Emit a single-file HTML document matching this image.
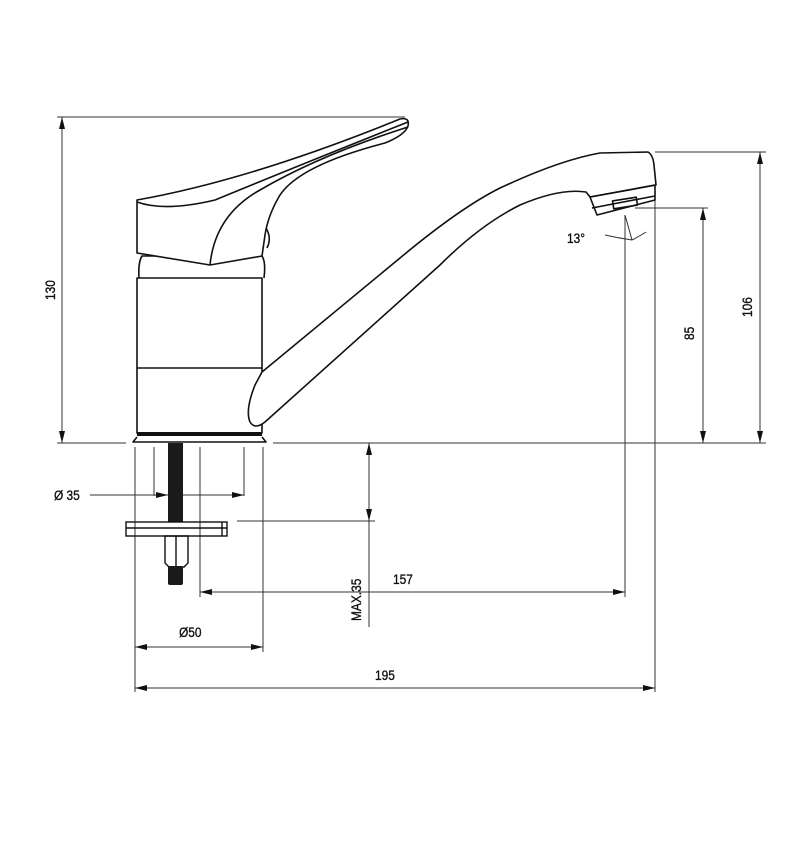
<!DOCTYPE html>
<html><head><meta charset="utf-8"><style>
html,body{margin:0;padding:0;background:#fff;}
svg{display:block;}
text{font-family:"Liberation Sans",sans-serif;font-size:14px;fill:#111;stroke:#111;stroke-width:0.35;}
</style></head><body>
<svg width="800" height="849" viewBox="0 0 800 849" xmlns="http://www.w3.org/2000/svg">
<defs>
<marker id="a" viewBox="0 0 12 6" refX="12" refY="3" markerWidth="12" markerHeight="6" orient="auto-start-reverse" markerUnits="userSpaceOnUse">
<path d="M0,0 L12,3 L0,6 Z" fill="#111"/>
</marker>
</defs>
<g stroke="#333" stroke-width="1" fill="none">
<line x1="57" y1="117" x2="405" y2="117"/>
<line x1="57" y1="443" x2="126" y2="443"/>
<line x1="62" y1="117" x2="62" y2="443" marker-start="url(#a)" marker-end="url(#a)"/>
<line x1="273" y1="443" x2="766" y2="443"/>
<line x1="655" y1="152" x2="766" y2="152"/>
<line x1="760" y1="152" x2="760" y2="443" marker-start="url(#a)" marker-end="url(#a)"/>
<line x1="635" y1="208" x2="708" y2="208"/>
<line x1="703" y1="208" x2="703" y2="443" marker-start="url(#a)" marker-end="url(#a)"/>
<line x1="655" y1="185" x2="655" y2="692"/>
<line x1="625" y1="215" x2="625" y2="597"/>
<line x1="135" y1="447" x2="135" y2="692"/>
<line x1="263" y1="447" x2="263" y2="652"/>
<line x1="200" y1="447" x2="200" y2="597"/>
<line x1="154" y1="447" x2="154" y2="496"/>
<line x1="244" y1="447" x2="244" y2="496"/>
<line x1="90" y1="495" x2="168" y2="495" marker-end="url(#a)"/>
<line x1="183" y1="495" x2="244" y2="495" marker-end="url(#a)"/>
<line x1="237" y1="521" x2="375" y2="521"/>
<line x1="369" y1="443" x2="369" y2="627"/>
<line x1="369" y1="470" x2="369" y2="443" marker-end="url(#a)"/>
<line x1="369" y1="495" x2="369" y2="521" marker-end="url(#a)"/>
<line x1="200" y1="592" x2="625" y2="592" marker-start="url(#a)" marker-end="url(#a)"/>
<line x1="135" y1="647" x2="263" y2="647" marker-start="url(#a)" marker-end="url(#a)"/>
<line x1="135" y1="688" x2="655" y2="688" marker-start="url(#a)" marker-end="url(#a)"/>
<line x1="625" y1="215" x2="632" y2="240"/>
<path d="M605,235 Q618,238 632,240"/>
<path d="M632,240 Q640,236 646,232"/>
</g>

<g stroke="#111" stroke-width="1.6" fill="none" stroke-linejoin="round">
<path d="M139,278 Q138,262 142,256 L262,256 Q266,262 264,278"/>
<rect x="137" y="278" width="125" height="155"/>
<line x1="137" y1="368" x2="262" y2="368"/>
<path d="M137,437 L133,442 L266,442 L262,437"/>
<path d="M137,200 Q250,180 400,119 Q410,117 408,126 Q405,135 385,143 Q300,165 280,195 Q268,215 265,235 L262,256 L210,265 L137,253 Z" fill="#fff"/>
<path d="M137,202 Q165,212 215,200 Q300,165 408,122"/>
<path d="M210,265 Q215,215 260,190 Q320,155 408,127"/>
<path d="M266,228 Q272,238 267,248"/>
<path d="M262,372 L400,258 Q460,208 500,188 Q560,160 600,153 L648,152 Q653,155 654,165 L656,185 L590,197 L586,192 Q560,188 520,205 Q480,225 440,265 L265,422 Q255,430 250,422 Q245,410 255,385 Z" fill="#fff"/>
<path d="M590,197 L655,185 L655,200 L597,215 Z"/>
<line x1="592" y1="208" x2="655" y2="196"/>
<rect x="613" y="199" width="24" height="8" transform="rotate(-9 625 203)"/>
</g>
<rect x="137" y="432" width="125" height="4" fill="#111"/>
<rect x="168" y="443" width="15" height="79" fill="#1a1a1a"/>
<g stroke="#111" stroke-width="1.4" fill="none">
<rect x="126" y="522" width="101" height="14"/>
<line x1="126" y1="528" x2="227" y2="528"/>
<line x1="222" y1="522" x2="222" y2="536"/>
<path d="M165,536 L188,536 L188,563 L184,567 L169,567 L165,563 Z"/>
<line x1="176" y1="536" x2="176" y2="566"/>
</g>
<rect x="168" y="566" width="15" height="19" rx="2" fill="#1a1a1a"/>

<g>
<text transform="translate(55,300) rotate(-90) scale(0.85,1)">130</text>
<text transform="translate(752,317) rotate(-90) scale(0.85,1)">106</text>
<text transform="translate(694,340) rotate(-90) scale(0.85,1)">85</text>
<text transform="translate(361,621) rotate(-90) scale(0.85,1)">MAX.35</text>
<text transform="translate(54,500) scale(0.85,1)">Ø 35</text>
<text transform="translate(567,243) scale(0.85,1)">13°</text>
<text transform="translate(393,584) scale(0.85,1)">157</text>
<text transform="translate(179,637) scale(0.85,1)">Ø50</text>
<text transform="translate(375,680) scale(0.85,1)">195</text>
</g>
</svg>
</body></html>
